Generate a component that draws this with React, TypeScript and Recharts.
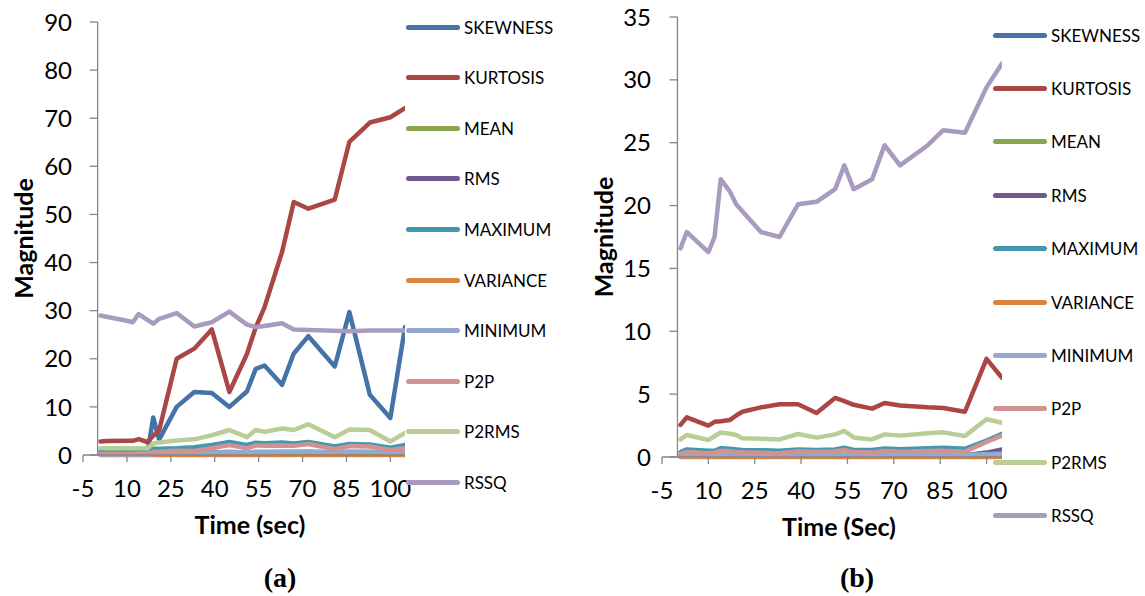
import React from 'react';
import { LineChart, Line, XAxis, YAxis, ReferenceLine, Legend } from 'recharts';

// ---------- data ----------
const TIMES = [1, 3, 10, 12, 14, 17, 19, 21, 27, 33, 39, 45, 51, 54, 57, 63, 67, 72, 81, 86, 93, 100, 105];

const SERIES_NAMES = ['SKEWNESS', 'KURTOSIS', 'MEAN', 'RMS', 'MAXIMUM', 'VARIANCE', 'MINIMUM', 'P2P', 'P2RMS', 'RSSQ'];
const SERIES_COLORS = ['#4572A7', '#AA4643', '#89A54E', '#71588F', '#4198AF', '#DB843D', '#93A9CF', '#D19392', '#B9CD96', '#A99BBD'];

const X_TICKS = [-5, 10, 25, 40, 55, 70, 85, 100];
const Y_TICKS_A = [0, 10, 20, 30, 40, 50, 60, 70, 80, 90];
const Y_TICKS_B = [0, 5, 10, 15, 20, 25, 30, 35];

// chart (a)
const SKEW_A = [0.3, 0.3, 0.3, 0.3, 0.3, 0.4, 7.8, 3.2, 10.0, 13.1, 12.9, 10.0, 13.2, 17.9, 18.6, 14.6, 21.1, 24.7, 18.4, 29.7, 12.5, 7.7, 26.6];
const KURT_A = [2.8, 2.9, 2.95, 2.95, 3.3, 2.7, 4.0, 5.1, 20.0, 22.1, 26.1, 13.1, 21.0, 26.5, 30.7, 42.2, 52.6, 51.2, 53.1, 65.1, 69.1, 70.2, 72.1];
const MEAN_A = [0.1, 0.1, 0.1, 0.1, 0.1, 0.1, 0.1, 0.1, 0.1, 0.1, 0.1, 0.1, 0.1, 0.1, 0.1, 0.1, 0.1, 0.1, 0.1, 0.1, 0.1, 0.1, 0.1];
const RMS_A = [0.2, 0.2, 0.2, 0.2, 0.2, 0.2, 0.3, 0.3, 0.4, 0.4, 0.5, 0.6, 0.5, 0.6, 0.6, 0.6, 0.6, 0.7, 0.5, 0.6, 0.6, 0.4, 0.5];
const MAX_A = [0.85, 0.85, 0.85, 0.85, 0.85, 0.9, 1.3, 1.3, 1.4, 1.6, 2.1, 2.7, 2.1, 2.55, 2.45, 2.6, 2.4, 2.7, 1.75, 2.3, 2.2, 1.5, 2.1];
const VAR_A = [0, 0, 0, 0, 0, 0, 0, 0, 0, 0, 0, 0, 0, 0, 0, 0, 0, 0, 0, 0, 0, 0, 0];
const MIN_A = [0.1, 0.1, 0.1, 0.1, 0.1, 0.1, 0.2, 0.25, 0.3, 0.4, 0.5, 0.6, 0.55, 0.6, 0.6, 0.65, 0.65, 0.7, 0.6, 0.65, 0.65, 0.5, 0.6];
const P2P_A = [0.2, 0.2, 0.2, 0.2, 0.3, 0.35, 0.6, 0.7, 0.9, 0.85, 1.4, 2.05, 1.4, 2.0, 1.9, 2.0, 1.9, 2.3, 1.2, 1.85, 1.75, 1.05, 1.4];
const P2RMS_A = [1.4, 1.4, 1.4, 1.4, 1.4, 1.4, 2.4, 2.6, 3.0, 3.25, 4.1, 5.2, 3.7, 5.2, 4.8, 5.5, 5.2, 6.4, 3.7, 5.3, 5.2, 2.8, 4.6];
const RSSQ_A = [29.0, 28.75, 27.9, 27.6, 29.3, 28.1, 27.3, 28.3, 29.5, 26.7, 27.6, 29.8, 27.1, 26.6, 26.8, 27.4, 26.1, 26.0, 25.8, 25.7, 25.9, 25.9, 25.9];

// chart (b)
const SKEW_B = [0.1, 0.1, 0.1, 0.1, 0.12, 0.1, 0.1, 0.1, 0.1, 0.1, 0.1, 0.1, 0.1, 0.12, 0.1, 0.1, 0.1, 0.1, 0.1, 0.1, 0.1, 0.12, 0.15];
const KURT_B = [2.55, 3.15, 2.5, 2.8, 2.85, 2.95, 3.3, 3.6, 3.95, 4.2, 4.2, 3.5, 4.7, 4.45, 4.15, 3.85, 4.3, 4.1, 3.95, 3.9, 3.6, 7.8, 6.3];
const MEAN_B = [0.05, 0.05, 0.05, 0.05, 0.05, 0.05, 0.05, 0.05, 0.05, 0.05, 0.05, 0.05, 0.05, 0.05, 0.05, 0.05, 0.05, 0.05, 0.05, 0.05, 0.05, 0.05, 0.05];
const RMS_B = [0.1, 0.1, 0.1, 0.1, 0.12, 0.1, 0.1, 0.1, 0.1, 0.1, 0.1, 0.1, 0.1, 0.12, 0.1, 0.1, 0.1, 0.1, 0.1, 0.12, 0.15, 0.35, 0.6];
const MAX_B = [0.4, 0.6, 0.5, 0.5, 0.7, 0.65, 0.6, 0.56, 0.53, 0.5, 0.6, 0.56, 0.6, 0.74, 0.56, 0.56, 0.68, 0.62, 0.7, 0.74, 0.65, 1.3, 1.85];
const VAR_B = [0, 0, 0, 0, 0, 0, 0, 0, 0, 0, 0, 0, 0, 0, 0, 0, 0, 0, 0, 0, 0, 0, 0];
const MIN_B = [0.08, 0.1, 0.08, 0.1, 0.2, 0.18, 0.15, 0.12, 0.1, 0.1, 0.15, 0.12, 0.15, 0.2, 0.15, 0.12, 0.18, 0.15, 0.18, 0.2, 0.18, 0.22, 0.25];
const P2P_B = [0.25, 0.4, 0.3, 0.35, 0.5, 0.45, 0.4, 0.37, 0.33, 0.3, 0.45, 0.4, 0.45, 0.56, 0.4, 0.35, 0.5, 0.42, 0.48, 0.5, 0.42, 1.2, 1.7];
const P2RMS_B = [1.4, 1.75, 1.35, 1.65, 1.95, 1.85, 1.75, 1.5, 1.46, 1.4, 1.83, 1.54, 1.8, 2.07, 1.56, 1.4, 1.8, 1.7, 1.88, 1.96, 1.67, 3.0, 2.73];
const RSSQ_B = [16.6, 17.9, 16.3, 17.5, 22.1, 21.1, 20.1, 19.55, 17.9, 17.5, 20.1, 20.3, 21.3, 23.2, 21.3, 22.1, 24.8, 23.2, 24.8, 26.0, 25.8, 29.4, 31.3];

const SERIES_A = [SKEW_A, KURT_A, MEAN_A, RMS_A, MAX_A, VAR_A, MIN_A, P2P_A, P2RMS_A, RSSQ_A];
const SERIES_B = [SKEW_B, KURT_B, MEAN_B, RMS_B, MAX_B, VAR_B, MIN_B, P2P_B, P2RMS_B, RSSQ_B];

function buildRows(series: number[][]) {
  return TIMES.map((t, i) => {
    const row: Record<string, number> = { t };
    SERIES_NAMES.forEach((n, k) => {
      row[n] = series[k][i];
    });
    return row;
  });
}

// ---------- styling ----------
const FONT = 'Lato, "Open Sans", sans-serif';
const AXIS_COLOR = '#868686';
const X_MIN = -5;
const X_MAX = 105;

type PanelProps = {
  rows: Record<string, number>[];
  width: number;
  height: number;
  margin: { top: number; right: number; left: number; bottom: number };
  yAxisWidth: number;
  xAxisHeight: number;
  yMax: number;
  yTicks: number[];
  xTitle: string;
  xTitleDx: number;
  xTitleBaseline: number;
  yTitleX: number;
  xTickMargin: number;
  yLabelGap: number;
  legendLeft: number;
  legendTop: number;
  legendStep: number;
};

function Panel(p: PanelProps) {
  const plotLeft = p.margin.left + p.yAxisWidth;
  const plotW = p.width - plotLeft - p.margin.right;
  const zeroX = plotLeft + (plotW * (0 - X_MIN)) / (X_MAX - X_MIN);
  const labelRight = plotLeft - p.yLabelGap;

  const YTick = (props: any) => {
    const { y, payload } = props;
    return (
      <g>
        <text x={labelRight} y={y} dy="0.36em" textAnchor="end" fill="#000" fontSize={24} fontFamily={FONT}>
          {payload.value}
        </text>
        <line x1={zeroX - 8} x2={zeroX} y1={y} y2={y} stroke={AXIS_COLOR} strokeWidth={1.3} />
      </g>
    );
  };

  const XTitle = (props: any) => {
    const vb = props.viewBox || { x: 0, width: 0 };
    return (
      <text
        x={vb.x + vb.width / 2 + p.xTitleDx}
        y={p.xTitleBaseline}
        textAnchor="middle"
        fill="#000"
        fontSize={25}
        fontWeight={700}
        fontFamily={FONT}
      >
        {p.xTitle}
      </text>
    );
  };

  const YTitle = (props: any) => {
    const vb = props.viewBox || { y: 0, height: 0 };
    const cy = vb.y + vb.height / 2;
    return (
      <text
        x={p.yTitleX}
        y={cy}
        transform={`rotate(-90 ${p.yTitleX} ${cy})`}
        textAnchor="middle"
        dominantBaseline="central"
        fill="#000"
        fontSize={25}
        fontWeight={700}
        fontFamily={FONT}
      >
        Magnitude
      </text>
    );
  };

  const renderLegend = (props: any) => {
    const payload = [...(props.payload || [])].sort(
      (a: any, b: any) => SERIES_NAMES.indexOf(a.value) - SERIES_NAMES.indexOf(b.value)
    );
    return (
      <div style={{ position: 'relative', width: 170, height: p.height }}>
        {payload.map((it: any, i: number) => (
          <div
            key={it.value}
            style={{
              position: 'absolute',
              left: 0,
              top: p.legendTop + i * p.legendStep - 12,
              height: 24,
              display: 'flex',
              alignItems: 'center',
              whiteSpace: 'nowrap',
            }}
          >
            <div style={{ marginLeft: 6, width: 54, height: 5, borderRadius: 3, background: it.color }} />
            <span style={{ marginLeft: 4, fontFamily: FONT, fontSize: 17, color: '#000' }}>{it.value}</span>
          </div>
        ))}
      </div>
    );
  };

  return (
    <LineChart width={p.width} height={p.height} data={p.rows} margin={p.margin} style={{ fontFamily: FONT }}>
      <XAxis
        dataKey="t"
        type="number"
        domain={[X_MIN, X_MAX]}
        ticks={X_TICKS}
        interval={0}
        allowDataOverflow
        height={p.xAxisHeight}
        stroke={AXIS_COLOR}
        strokeWidth={1.3}
        tickSize={7}
        tickMargin={p.xTickMargin}
        tick={{ fill: '#000', fontSize: 24, fontFamily: FONT }}
        label={{ content: XTitle }}
      />
      <YAxis
        type="number"
        domain={[0, p.yMax]}
        ticks={p.yTicks}
        interval={0}
        width={p.yAxisWidth}
        axisLine={false}
        tickLine={false}
        tickSize={0}
        tick={YTick}
        label={{ content: YTitle }}
      />
      <ReferenceLine x={0} stroke={AXIS_COLOR} strokeWidth={1.3} />
      <Legend
        layout="vertical"
        align="center"
        verticalAlign="middle"
        content={renderLegend}
        wrapperStyle={{ left: p.legendLeft, top: 0, width: 170, height: p.height }}
      />
      {SERIES_NAMES.map((n, k) => (
        <Line
          key={n}
          dataKey={n}
          name={n}
          type="linear"
          stroke={SERIES_COLORS[k]}
          strokeWidth={4.5}
          strokeLinecap="round"
          strokeLinejoin="round"
          dot={false}
          activeDot={false}
          isAnimationActive={false}
        />
      ))}
    </LineChart>
  );
}

const ROWS_A = buildRows(SERIES_A);
const ROWS_B = buildRows(SERIES_B);

const captionStyle: React.CSSProperties = {
  position: 'absolute',
  width: 100,
  top: 563,
  textAlign: 'center',
  fontFamily: '"Liberation Serif", serif',
  fontWeight: 700,
  fontSize: 28,
  lineHeight: '30px',
};

export default function App() {
  return (
    <div style={{ position: 'absolute', left: 0, top: 0, width: 1145, height: 596, background: '#fff' }}>
      <div style={{ position: 'absolute', left: 0, top: 0 }}>
        <Panel
          rows={ROWS_A}
          width={575}
          height={540}
          margin={{ top: 22, right: 170, left: 0, bottom: 0 }}
          yAxisWidth={83}
          xAxisHeight={85}
          yMax={90}
          yTicks={Y_TICKS_A}
          xTitle="Time (sec)"
          xTitleDx={6}
          xTitleBaseline={534}
          yTitleX={23}
          xTickMargin={18}
          yLabelGap={11}
          legendLeft={400}
          legendTop={27}
          legendStep={50.6}
        />
      </div>
      <div style={{ position: 'absolute', left: 575, top: 0 }}>
        <Panel
          rows={ROWS_B}
          width={570}
          height={540}
          margin={{ top: 17, right: 143, left: 0, bottom: 0 }}
          yAxisWidth={87}
          xAxisHeight={83}
          yMax={35}
          yTicks={Y_TICKS_B}
          xTitle="Time (Sec)"
          xTitleDx={7}
          xTitleBaseline={536}
          yTitleX={28}
          xTickMargin={18}
          yLabelGap={11}
          legendLeft={412}
          legendTop={35}
          legendStep={53.4}
        />
      </div>
      <div style={{ ...captionStyle, left: 230 }}>(a)</div>
      <div style={{ ...captionStyle, left: 807 }}>(b)</div>
    </div>
  );
}
